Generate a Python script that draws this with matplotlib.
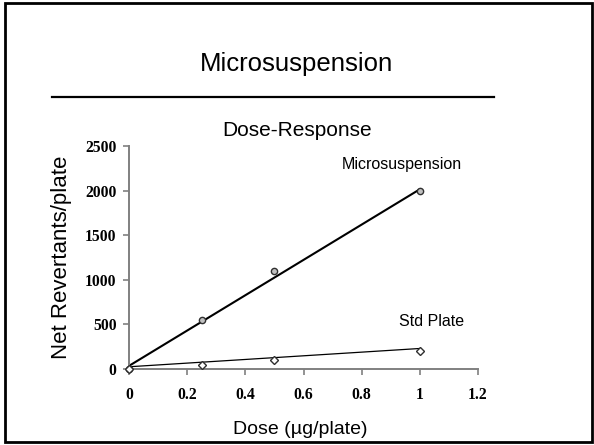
import numpy as np
import matplotlib
matplotlib.use('Agg')
import matplotlib.pyplot as plt
from matplotlib.patches import Rectangle
from matplotlib.lines import Line2D

# data
dose = [0, 0.25, 0.5, 1.0]
micro = [5, 550, 1100, 2000]
std_plate = [5, 50, 100, 200]

# trendlines as drawn on the slide (end points)
trend_dose = [0, 1.0]
micro_trend = [35, 2015]
std_trend = [25, 230]

xticks = [0, 0.2, 0.4, 0.6, 0.8, 1, 1.2]
xticklabels = ['0', '0.2', '0.4', '0.6', '0.8', '1', '1.2']
yticks = [0, 500, 1000, 1500, 2000, 2500]

sans = 'Liberation Sans'
serif = 'Liberation Serif'

fig = plt.figure(figsize=(5.94, 4.45), dpi=100)

# slide frame
fig.patches.append(Rectangle((5 / 594, 3 / 445), 587 / 594, 439 / 445,
                             transform=fig.transFigure, fill=False,
                             edgecolor='black', linewidth=2))

# slide title and rule
fig.text(0.5, 1 - 64 / 445, 'Microsuspension', ha='center', va='center',
         fontsize=18.5, family=sans)
fig.lines.append(Line2D([52 / 594, 494 / 594], [1 - 97 / 445, 1 - 97 / 445],
                        transform=fig.transFigure, color='black', linewidth=1.6))

ax = fig.add_axes([129 / 594, 1 - 369 / 445, 349 / 594, 223 / 445])

ax.plot(trend_dose, micro_trend, color='black', linewidth=1.5, zorder=2)
ax.plot(trend_dose, std_trend, color='black', linewidth=0.9, zorder=2)
ax.plot(dose, micro, linestyle='none', marker='o', markersize=4.5,
        markerfacecolor='#c0c0c0', markeredgecolor='#303030',
        markeredgewidth=1, zorder=3, clip_on=False)
ax.plot(dose, std_plate, linestyle='none', marker='D', markersize=4,
        markerfacecolor='white', markeredgecolor='#303030',
        markeredgewidth=1, zorder=3, clip_on=False)

ax.text(0.939, 2298, 'Microsuspension', ha='center', va='center',
        fontsize=11.5, family=sans)
ax.text(1.042, 527, 'Std Plate', ha='center', va='center',
        fontsize=11.5, family=sans)

ax.set_xlim(0, 1.2)
ax.set_ylim(0, 2500)
ax.set_xticks(xticks)
ax.set_xticklabels(xticklabels)
ax.set_yticks(yticks)

for side in ['top', 'right']:
    ax.spines[side].set_visible(False)
for side in ['left', 'bottom']:
    ax.spines[side].set_color('#808080')
    ax.spines[side].set_linewidth(1.4)

ax.tick_params(axis='x', direction='out', length=4, width=1.2,
               color='#808080', pad=9)
ax.tick_params(axis='y', direction='out', length=4, width=1.2,
               color='#808080', pad=5)
for lab in ax.get_xticklabels() + ax.get_yticklabels():
    lab.set_family(serif)
    lab.set_fontweight('bold')
    lab.set_fontsize(11.3)

fig.text(0.5, 1 - 131 / 445, 'Dose-Response', ha='center', va='center',
         fontsize=15, family=sans)
fig.text(62 / 594, 1 - 257 / 445, 'Net Revertants/plate', ha='center',
         va='center', rotation=90, fontsize=16, family=sans)
fig.text(300 / 594, 1 - 430 / 445, 'Dose (\u00b5g/plate)', ha='center',
         va='center', fontsize=14, family=sans)

fig.savefig('out.png', dpi=100)
